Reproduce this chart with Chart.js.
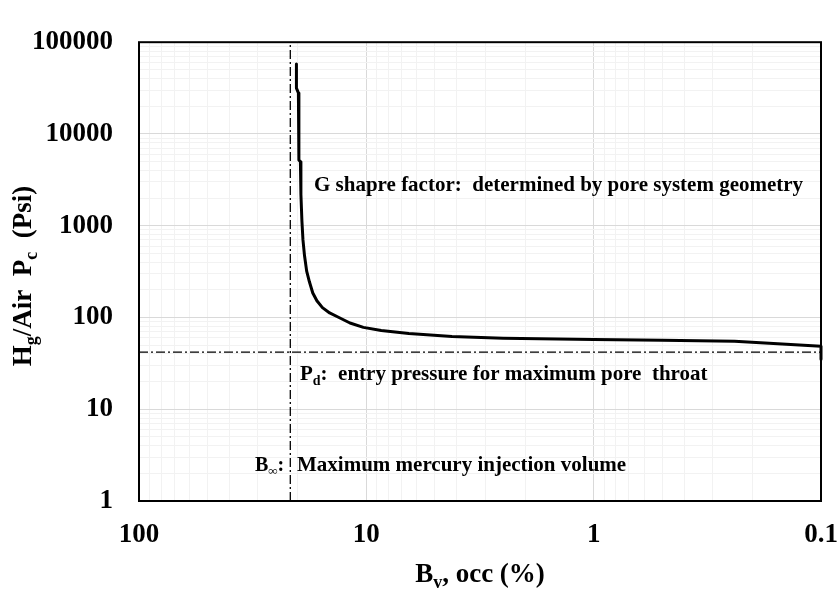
<!DOCTYPE html>
<html>
<head>
<meta charset="utf-8">
<script src="https://cdn.jsdelivr.net/npm/chart.js@4.4.1/dist/chart.umd.min.js"></script>
<style>
html, body { margin: 0; padding: 0; background: #fff; }
#wrap { width: 838px; height: 590px; }
</style>
</head>
<body>
<div id="wrap"><canvas id="pc_chart"></canvas></div>
<script>
// mercury injection curve: B_v (%) against capillary pressure (psi)
var bvPercent = [20.3, 20.3, 19.9, 19.8, 19.5, 19.4, 19.2, 19.0, 18.7, 18.3, 17.8, 17.2, 16.5, 15.6, 14.5, 13.2, 11.8, 10.3, 8.6, 6.5, 4.2, 2.5, 1.0, 0.5, 0.24, 0.1, 0.1];
var pcPsi = [57800, 31600, 28000, 5200, 4980, 2200, 1120, 700, 470, 320, 245, 185, 152, 128, 112, 100, 87, 78, 72, 67, 62, 59.5, 57.5, 56.5, 55, 48.5, 35];

// B-infinity line and Pd line
var bInfX = [21.6, 21.6];
var bInfY = [1, 100000];
var pdX = [100, 0.1];
var pdY = [42, 42];

var xTickLabels = ['100', '10', '1', '0.1'];
var yTickLabels = ['1', '10', '100', '1000', '10000', '100000'];

var serif = "'Times New Roman', 'Liberation Serif', serif";

function toPoints(xs, ys) {
    var pts = [];
    for (var i = 0; i < xs.length; i++) pts.push({ x: xs[i], y: ys[i] });
    return pts;
}

function logTicks(min, max) {
    var out = [];
    for (var e = Math.round(Math.log10(min)); e < Math.round(Math.log10(max)); e++) {
        for (var k = 1; k < 10; k++) out.push({ value: k * Math.pow(10, e) });
    }
    out.push({ value: max });
    return out;
}

function isMajor(v) {
    var l = Math.log10(v);
    return Math.abs(l - Math.round(l)) < 1e-9;
}

function gridColor(ctx) {
    return ctx.tick && isMajor(ctx.tick.value) ? '#d9d9d9' : '#f2f2f2';
}

// draws text made of normal and subscript pieces
function drawParts(ctx, parts, x, y, size, align) {
    var subSize = Math.round(size * 0.65);
    var w = 0;
    parts.forEach(function (p) {
        ctx.font = 'bold ' + (p[1] ? subSize : size) + 'px ' + serif;
        w += ctx.measureText(p[0]).width;
    });
    var cx = align === 'center' ? x - w / 2 : x;
    ctx.textAlign = 'left';
    ctx.textBaseline = 'alphabetic';
    parts.forEach(function (p) {
        ctx.font = 'bold ' + (p[1] ? subSize : size) + 'px ' + serif;
        ctx.fillText(p[0], cx, y + (p[1] ? size * 0.22 : 0));
        cx += ctx.measureText(p[0]).width;
    });
}

var labelsPlugin = {
    id: 'labelsPlugin',
    afterDraw: function (chart) {
        var ctx = chart.ctx;
        var a = chart.chartArea;
        ctx.save();
        ctx.strokeStyle = '#000';
        ctx.lineWidth = 2;
        ctx.strokeRect(a.left, a.top, a.right - a.left, a.bottom - a.top);
        ctx.fillStyle = '#000';

        drawParts(ctx, [['B', 0], ['v', 1], [', occ (%)', 0]], (a.left + a.right) / 2, 582, 27, 'center');

        ctx.save();
        ctx.translate(31, 276);
        ctx.rotate(-Math.PI / 2);
        drawParts(ctx, [['H', 0], ['g', 1], ['/Air  P', 0], ['c', 1], ['  (Psi)', 0]], 0, 0, 27, 'center');
        ctx.restore();

        drawParts(ctx, [['G shapre factor:  determined by pore system geometry', 0]], 314, 191, 21, 'left');
        drawParts(ctx, [['P', 0], ['d', 1], [':  entry pressure for maximum pore  throat', 0]], 300, 380, 21, 'left');
        drawParts(ctx, [['B', 0], ['\u221e', 1], [':', 0]], 255, 471, 20, 'left');
        drawParts(ctx, [['Maximum mercury injection volume', 0]], 297, 471, 21, 'left');
        ctx.restore();
    }
};

new Chart(document.getElementById('pc_chart').getContext('2d'), {
    type: 'scatter',
    data: {
        datasets: [{
            data: toPoints(bvPercent, pcPsi),
            showLine: true,
            borderColor: '#000',
            borderWidth: 3,
            borderJoinStyle: 'round',
            pointRadius: 0,
            tension: 0,
            clip: 4
        }, {
            data: toPoints(bInfX, bInfY),
            showLine: true,
            borderColor: '#000',
            borderWidth: 1.3,
            borderDash: [9, 3, 2, 3],
            pointRadius: 0
        }, {
            data: toPoints(pdX, pdY),
            showLine: true,
            borderColor: '#000',
            borderWidth: 1.3,
            borderDash: [9, 3, 2, 3],
            pointRadius: 0
        }]
    },
    options: {
        responsive: true,
        maintainAspectRatio: false,
        animation: false,
        layout: { padding: { left: 0, top: 24, right: 17, bottom: 0 } },
        plugins: { legend: false, tooltip: { enabled: false } },
        scales: {
            x: {
                type: 'logarithmic',
                reverse: true,
                min: 0.1,
                max: 100,
                afterBuildTicks: function (scale) { scale.ticks = logTicks(0.1, 100); },
                afterFit: function (scale) { scale.height = 89; },
                grid: { color: gridColor, lineWidth: 1, drawTicks: false },
                border: { display: false },
                ticks: {
                    autoSkip: false,
                    maxRotation: 0,
                    padding: 18,
                    color: '#000',
                    font: { family: serif, size: 27, weight: 'bold' },
                    callback: function (value) {
                        var i = xTickLabels.indexOf(String(value));
                        return i >= 0 ? xTickLabels[i] : '';
                    }
                }
            },
            y: {
                type: 'logarithmic',
                min: 1,
                max: 100000,
                afterBuildTicks: function (scale) { scale.ticks = logTicks(1, 100000); },
                afterFit: function (scale) { scale.width = 139; },
                grid: { color: gridColor, lineWidth: 1, drawTicks: false },
                border: { display: false },
                ticks: {
                    autoSkip: false,
                    padding: 26,
                    color: '#000',
                    font: { family: serif, size: 27, weight: 'bold' },
                    callback: function (value) {
                        var i = yTickLabels.indexOf(String(value));
                        return i >= 0 ? yTickLabels[i] : '';
                    }
                }
            }
        }
    },
    plugins: [labelsPlugin]
});
</script>
</body>
</html>
